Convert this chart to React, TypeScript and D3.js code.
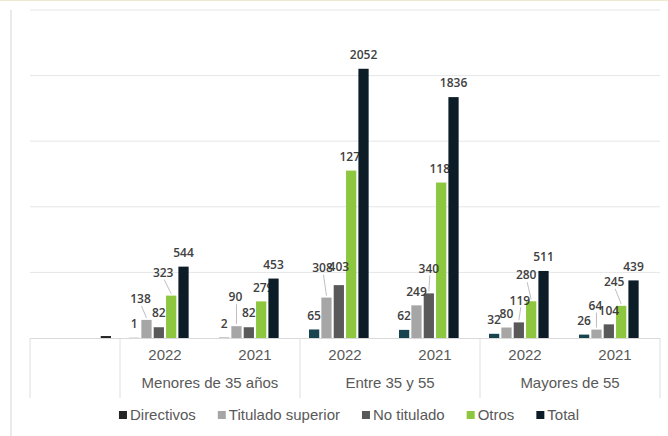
import React from "react";
import * as d3 from "d3";

// ---- data ----
const groups = ["", "Menores de 35 años", "Entre 35 y 55", "Mayores de 55"];
const categories = ["", "Menores de 35 años|2022", "Menores de 35 años|2021", "Entre 35 y 55|2022", "Entre 35 y 55|2021", "Mayores de 55|2022", "Mayores de 55|2021"];
const yearLabels = ["", "2022", "2021", "2022", "2021", "2022", "2021"];
const seriesNames = ["Directivos", "Titulado superior", "No titulado", "Otros", "Total", ""];
const directivos = [null, 1, 2, 65, 62, 32, 26];
const tituladoSuperior = [null, 138, 90, 308, 249, 80, 64];
const noTitulado = [null, 82, 82, 403, 340, 119, 104];
const otros = [null, 323, 279, 1276, 1185, 280, 245];
const total = [null, 544, 453, 2052, 1836, 511, 439];
const hiddenSeries = [15, null, null, null, null, null, null];
const yTicks = [500, 1000, 1500, 2000, 2500];

// label nudges [dx, dy] (layout only)
const labelNudges: Record<string, [number, number]> = {
  "1-1": [-6, -7],
  "1-3": [-8, -9],
  "2-1": [-1, -15],
  "2-3": [2, 0],
  "3-1": [-4, -16],
  "3-2": [0, -4],
  "3-3": [2, 0],
  "4-2": [0, -11],
  "4-3": [2, 0],
  "5-2": [1, -8],
  "5-3": [-5, -12],
  "6-1": [-1, -10],
  "6-3": [-7, -10],
};

const colors = ["#17444f", "#a6a6a6", "#595959", "#8dc63f", "#0d1d28", "#262626"];
const legendColors = ["#262626", "#a6a6a6", "#595959", "#8dc63f", "#0d1d28"];

const W = 668;
const H = 436;
const axisFont = "'Liberation Sans', Arial, sans-serif";
const labelFont = "'Open Sans', sans-serif";

function measure(text: string, font: string) {
  const c = document.createElement("canvas").getContext("2d")!;
  c.font = font;
  return c.measureText(text).width;
}

export default function App() {
  const allSeries = [directivos, tituladoSuperior, noTitulado, otros, total, hiddenSeries];
  const x0 = d3.scaleBand<string>().domain(categories).range([30, 660]).paddingInner(0).paddingOuter(0);
  const x1 = d3.scaleBand<number>().domain(d3.range(6)).range([-36, 36]).paddingInner(0.17).paddingOuter(0);
  const y = d3.scaleLinear().domain([0, 2500]).range([338, 10]);
  const baseY = y(0);

  const barX = (ci: number, si: number) => x0(categories[ci])! + x0.bandwidth() / 2 + x1(si)!;
  const barCX = (ci: number, si: number) => barX(ci, si) + x1.bandwidth() / 2;

  const renderBars = (si: number) =>
    allSeries[si].map((v, ci) =>
      v == null ? null : (
        <rect key={`b${si}-${ci}`} x={barX(ci, si)} y={y(v)} width={x1.bandwidth()} height={baseY - y(v)} fill={colors[si]} />
      )
    );

  const renderLabels = (si: number) =>
    allSeries[si].map((v, ci) => {
      if (v == null || si === 5) return null;
      const nudge = labelNudges[`${ci}-${si}`] || [0, 0];
      const cx = barCX(ci, si);
      const top = y(v);
      const lx = cx + nudge[0];
      const ly = top - 14 + nudge[1];
      const leader = nudge[1] <= -6;
      return (
        <g key={`l${si}-${ci}`}>
          {leader && <line x1={lx + 1} y1={ly + 7} x2={cx} y2={top - 2} stroke="#bfbfbf" strokeWidth={1} />}
          <text x={lx} y={ly} dy="0.35em" textAnchor="middle" fontFamily={labelFont} fontSize={12} fontWeight={600} fill="#404040">
            {String(v)}
          </text>
        </g>
      );
    });

  const idxOf = (g: string) =>
    categories.map((c, i) => [c, i] as [string, number]).filter(([c]) => (c.split("|")[0] || "") === g).map(([, i]) => i);

  const groupBounds: number[] = [30];
  groups.forEach((g) => {
    const idx = idxOf(g);
    groupBounds.push(x0(categories[idx[idx.length - 1]])! + x0.bandwidth());
  });
  const groupCenters = groups.map((g) => {
    const idx = idxOf(g);
    const a = x0(categories[idx[0]])!;
    const b = x0(categories[idx[idx.length - 1]])! + x0.bandwidth();
    return (a + b) / 2;
  });

  // legend layout
  const legFont = `15px ${axisFont}`;
  const marker = 8;
  const gapMT = 3;
  const gapItems = 22;
  const legItems = seriesNames.slice(0, 5);
  const widths = legItems.map((n) => marker + gapMT + measure(n, legFont));
  const totalW = d3.sum(widths) + gapItems * (legItems.length - 1);
  let lx = 349 - totalW / 2;
  const legendPos = widths.map((w) => {
    const p = lx;
    lx += w + gapItems;
    return p;
  });

  return (
    <svg width={W} height={H} style={{ position: "absolute", left: 0, top: 0, background: "#fff" }}>
      <rect x={0} y={0} width={W} height={H} fill="#fff" />
      <line x1={0} y1={0.5} x2={W} y2={0.5} stroke="#efe9d2" strokeWidth={1} />
      <line x1={11} y1={10} x2={11} y2={H} stroke="#e3e3e3" strokeWidth={1.5} />
      {yTicks.map((t) => (
        <line key={`g${t}`} x1={30} x2={660} y1={y(t)} y2={y(t)} stroke="#e6e6e6" strokeWidth={1} />
      ))}
      <line x1={30} x2={660} y1={baseY + 0.5} y2={baseY + 0.5} stroke="#d9d9d9" strokeWidth={1} />
      {groupBounds.map((bx, i) => (
        <line key={`s${i}`} x1={bx} x2={bx} y1={baseY} y2={398} stroke="#dedede" strokeWidth={1} />
      ))}
      {yearLabels.map((l, ci) =>
        l ? (
          <text key={`yl${ci}`} x={x0(categories[ci])! + x0.bandwidth() / 2} y={355} dy="0.35em" textAnchor="middle" fontFamily={axisFont} fontSize={15} fill="#595959">
            {l}
          </text>
        ) : null
      )}
      {groups.map((g, gi) =>
        g ? (
          <text key={`gl${gi}`} x={groupCenters[gi]} y={383} dy="0.35em" textAnchor="middle" fontFamily={axisFont} fontSize={15} fill="#595959">
            {g}
          </text>
        ) : null
      )}
      {[0, 1, 2, 3, 5].map((si) => renderBars(si))}
      {[0, 1, 2, 3].map((si) => renderLabels(si))}
      {renderBars(4)}
      {renderLabels(4)}
      {legItems.map((n, i) => (
        <g key={`lg${i}`} transform={`translate(${legendPos[i]},415)`}>
          <rect x={0} y={-marker / 2} width={marker} height={marker} fill={legendColors[i]} />
          <text x={marker + gapMT} y={0} dy="0.35em" fontFamily={axisFont} fontSize={15} fill="#595959">
            {n}
          </text>
        </g>
      ))}
    </svg>
  );
}
